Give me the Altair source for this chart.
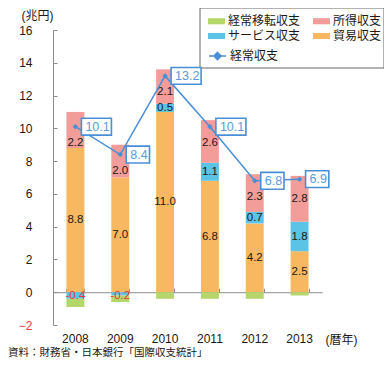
import altair as alt
import pandas as pd

years = ["2008", "2009", "2010", "2011", "2012", "2013"]
trade = [8.8, 7.0, 11.0, 6.8, 4.2, 2.5]
services = [-0.4, -0.2, 0.5, 1.1, 0.7, 1.8]
income = [2.2, 2.0, 2.1, 2.6, 2.3, 2.8]
transfers = [-0.5, -0.4, -0.4, -0.4, -0.4, -0.2]
current = [10.1, 8.4, 13.2, 10.1, 6.8, 6.9]

# legend order (row-wise in the reference): 経常移転収支, 所得収支 / サービス収支, 貿易収支
bar_names = ["経常移転収支", "サービス収支", "所得収支", "貿易収支"]
bar_colors = ["#b5d66b", "#5ac3e6", "#f29d99", "#f8b862"]
line_name = "経常収支"
y_ticks = [-2, 0, 2, 4, 6, 8, 10, 12, 14, 16]

FONT = "Liberation Sans, Noto Sans CJK JP"
DARK = "#231815"
RED = "#e8383d"
BLUE = "#4a8fd6"
GREY = "#8c8c8c"

W, H = 269, 295
ZERO = H * 16 / 18

rows = []
for i, yr in enumerate(years):
    pos, neg = 0.0, 0.0
    for name, vals in [("貿易収支", trade), ("サービス収支", services),
                       ("所得収支", income), ("経常移転収支", transfers)]:
        v = vals[i]
        if v >= 0:
            y0, y1 = pos, pos + v
            pos += v
        else:
            y0, y1 = neg, neg + v
            neg += v
        mid = (y0 + y1) / 2
        if name == "所得収支":
            mid = min(mid, current[i] - 1.0)   # keep clear of the value box
        if v < 0:
            mid = min(mid, -0.25)
        rows.append(dict(year=yr, series=name, value=v, y0=y0, y1=y1,
                         mid=mid, label=f"{v:.1f}",
                         show=name != "経常移転収支"))
bars_df = pd.DataFrame(rows)

line_df = pd.DataFrame({
    "year": years,
    "current": current,
    "label": [f"{v:.1f}" for v in current],
    "s": [line_name] * len(years),
})
line_df["w"] = line_df["label"].str.len().astype(str)

xscale = alt.Scale(domain=years, paddingInner=0.6, paddingOuter=0.3)
yscale = alt.Scale(domain=[-2, 16], nice=False, zero=False)

bar_legend = alt.Legend(
    title=None, orient="none", legendX=155, legendY=-17.5, columns=2,
    columnPadding=12, rowPadding=0, labelFontSize=12, labelOffset=3,
    symbolSize=289, symbolType="M-1,-0.36L1,-0.36L1,0.36L-1,0.36Z",
    symbolStrokeWidth=0, padding=0, labelColor=DARK, labelFont=FONT,
)
line_legend = alt.Legend(
    title=None, orient="none", legendX=155, legendY=16.5, padding=0,
    labelFontSize=12, labelOffset=3, symbolSize=289,
    symbolType="M-1,0L1,0M0,-0.42L0.42,0L0,0.42L-0.42,0Z",
    symbolStrokeColor=BLUE, symbolFillColor=BLUE, symbolStrokeWidth=1.5,
    symbolOpacity=1, labelColor=DARK, labelFont=FONT,
)

# frame drawn behind the two legends
frame = alt.Chart(pd.DataFrame({"a": [0]})).mark_rect(
    fill="white", stroke="#666666", strokeWidth=1).encode(
    x=alt.value(147), x2=alt.value(331), y=alt.value(-22), y2=alt.value(38))

bars = alt.Chart(bars_df).mark_bar().encode(
    x=alt.X("year:N", scale=xscale, axis=alt.Axis(
        orient="bottom", domain=False, ticks=False, tickSize=0, labelPadding=8,
        labelAngle=0, labelFontSize=12, labelColor=DARK, title="(暦年)",
        titleX=272, titleY=14, titleAlign="left", titleBaseline="middle",
        titleAngle=0, titleFontWeight="normal", titleFontSize=12, titleColor=DARK)),
    y=alt.Y("y0:Q", scale=yscale, axis=alt.Axis(
        orient="left", values=y_ticks, ticks=False, tickSize=0, labelPadding=21,
        domainColor=GREY, grid=False, labelFontSize=12,
        labelColor={"condition": {"test": "datum.value < 0", "value": RED}, "value": DARK},
        title="(兆円)", titleAngle=0, titleX=-16, titleY=-15, titleAlign="center",
        titleBaseline="middle", titleFontSize=12, titleFontWeight="normal", titleColor=DARK)),
    y2="y1:Q",
    color=alt.Color("series:N", scale=alt.Scale(domain=bar_names, range=bar_colors),
                    legend=bar_legend),
)

bar_text = alt.Chart(bars_df).transform_filter("datum.show").mark_text(
    fontSize=11.5, baseline="middle").encode(
    x=alt.X("year:N", scale=xscale, axis=None),
    y=alt.Y("mid:Q", scale=yscale, axis=None),
    text="label:N",
    color=alt.condition("datum.value < 0", alt.value(RED), alt.value(DARK)),
)

line = alt.Chart(line_df).mark_line(color=BLUE, strokeWidth=1.5).encode(
    x=alt.X("year:N", scale=xscale, axis=alt.Axis(
        orient="top", offset=-ZERO, labels=False, domain=True, domainColor=GREY,
        ticks=True, tickSize=4, tickColor=GREY, tickBand="extent", title=None, grid=False)),
    y=alt.Y("current:Q", scale=yscale, axis=alt.Axis(
        orient="right", offset=-W, values=y_ticks, labels=False, domain=False,
        ticks=True, tickSize=4, tickColor=GREY, title=None, grid=False)),
)

dots = alt.Chart(line_df).mark_point(shape="diamond", filled=True, size=30,
                                     opacity=1).encode(
    x=alt.X("year:N", scale=xscale, axis=None),
    y=alt.Y("current:Q", scale=yscale, axis=None),
    fill=alt.Fill("s:N", scale=alt.Scale(domain=[line_name], range=[BLUE]),
                  legend=line_legend),
)

box_wide = "M0.4,-0.56L2.4,-0.56L2.4,0.56L0.4,0.56Z"
box_narrow = "M0.4,-0.56L1.95,-0.56L1.95,0.56L0.4,0.56Z"
boxes = alt.Chart(line_df).mark_point(filled=True, size=900, fill="white",
                                      stroke=BLUE, strokeWidth=1.6, opacity=1).encode(
    x=alt.X("year:N", scale=xscale, axis=None),
    y=alt.Y("current:Q", scale=yscale, axis=None),
    shape=alt.Shape("w:N", scale=alt.Scale(domain=["4", "3"], range=[box_wide, box_narrow]),
                    legend=None),
)

box_text = alt.Chart(line_df).mark_text(align="left", baseline="middle", dx=10,
                                        fontSize=12.5, color="#5a9ad8").encode(
    x=alt.X("year:N", scale=xscale, axis=None),
    y=alt.Y("current:Q", scale=yscale, axis=None),
    text="label:N",
)

chart = alt.layer(frame, bars, bar_text, line, dots, boxes, box_text).resolve_axis(
    x="independent", y="independent"
).properties(
    width=W, height=H,
    padding={"left": 45, "top": 22, "right": 62, "bottom": 36},
    autosize=alt.AutoSizeParams(type="none"),
    title=alt.TitleParams(
        text="資料：財務省・日本銀行「国際収支統計」", orient="bottom", anchor="start",
        frame="group", dx=-45, offset=3, fontSize=10.5, fontWeight="normal",
        color=DARK, font=FONT),
).configure(font=FONT).configure_view(stroke=None)

chart.save("out.html", embed_options={"renderer": "svg", "actions": False})
